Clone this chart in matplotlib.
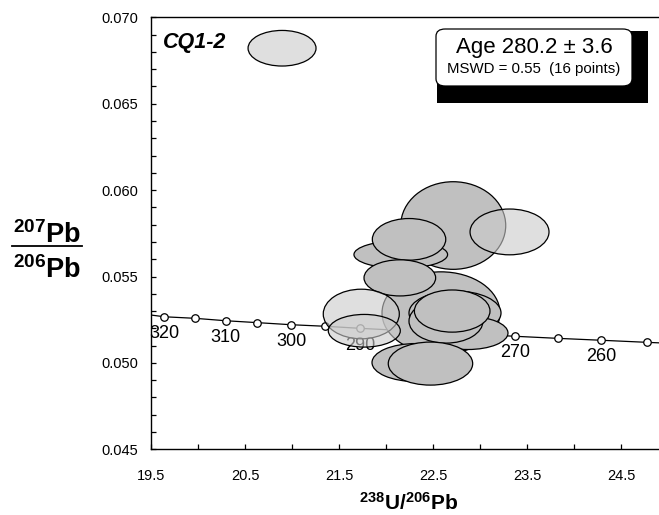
#!/usr/bin/env python3

# Tera-Wasserburg concordia, sample CQ1-2

import matplotlib
matplotlib.use("Agg")
import matplotlib.pyplot as plt
from matplotlib.patches import Ellipse, Rectangle, FancyBboxPatch
from matplotlib.lines import Line2D
from matplotlib.ticker import MultipleLocator, FixedLocator

# concordia age marks (Ma) and their positions
ages = [320, 315, 310, 305, 300, 295, 290, 285, 280, 275, 270, 265, 260, 255]
conc_x = [19.641, 19.968, 20.295, 20.631, 20.989, 21.351, 21.727, 22.117, 22.52, 22.94,
          23.375, 23.830, 24.291, 24.777]
conc_y = [0.05267, 0.05258, 0.05244, 0.05233, 0.05221, 0.05212, 0.05200, 0.05189,
          0.05177, 0.05166, 0.05154, 0.05142, 0.05131, 0.05119]
# curve ends at the plot edges
curve_x = [19.5] + conc_x + [24.904]
curve_y = [0.05277] + conc_y + [0.05116]

# error ellipses (centre, full width, full height), drawn in this order
ell_x = [22.585, 22.734, 22.872, 22.638, 22.704, 22.319, 22.473, 22.715, 22.157, 22.245, 22.147,
         23.314, 21.737, 21.769, 20.894]
ell_y = [0.05289, 0.05289, 0.05173, 0.05242, 0.05300, 0.05002, 0.04996, 0.05795, 0.05627, 0.05715, 0.05492,
         0.05758, 0.05283, 0.05186, 0.06821]
ell_w = [1.255, 0.979, 0.851, 0.787, 0.804, 0.936, 0.898, 1.117, 0.996, 0.781, 0.762,
         0.840, 0.809, 0.766, 0.723]
ell_h = [0.00476, 0.00255, 0.00191, 0.00255, 0.00244, 0.00220, 0.00249, 0.00507, 0.00159, 0.00241, 0.00209,
         0.00265, 0.00287, 0.00189, 0.00206]
# 1 = rejected analysis (light fill)
ell_rej = [0, 0, 0, 0, 0, 0, 0, 0, 0, 0, 0,
           1, 1, 1, 1]

x_labeled = [19.5, 20.5, 21.5, 22.5, 23.5, 24.5]
x_minor = [20.0, 21.0, 22.0, 23.0, 24.0]

plt.rcParams["font.family"] = ["Liberation Sans", "DejaVu Sans"]
plt.rcParams["mathtext.fontset"] = "custom"
plt.rcParams["mathtext.rm"] = "Liberation Sans"
plt.rcParams["mathtext.bf"] = "Liberation Sans:bold"
plt.rcParams["mathtext.it"] = "Liberation Sans:italic"

fig = plt.figure(figsize=(6.59, 5.15), dpi=100)
W, H = 659.0, 515.0
ax = fig.add_axes([151 / W, 1 - 449.3 / H, 508 / W, (449.3 - 17.3) / H])

ax.set_xlim(19.5, 24.904)
ax.set_ylim(0.045, 0.070)

# concordia
ax.plot(curve_x, curve_y, color="black", lw=0.9, zorder=2)
ax.plot(conc_x, conc_y, "o", ms=5.4, mfc="white", mec="black", mew=0.9, zorder=3)
for a, x, y in zip(ages, conc_x, conc_y):
	if a % 10 == 0:
		ax.annotate(str(a), (x, y), xytext=(0, -12), textcoords="offset points",
		            ha="center", va="center", fontsize=13, zorder=2, annotation_clip=False)

# ellipses
for x, y, w, h, r in zip(ell_x, ell_y, ell_w, ell_h, ell_rej):
	if r:
		fc = (203 / 255, 203 / 255, 203 / 255, 0.6)
	else:
		fc = (192 / 255, 192 / 255, 192 / 255, 1.0)
	ax.add_patch(Ellipse((x, y), w, h, facecolor=fc, edgecolor="black", lw=0.9, zorder=5))

# axes styling
ax.spines["right"].set_visible(False)
for s in ["left", "bottom", "top"]:
	ax.spines[s].set_linewidth(1.0)
ax.xaxis.set_major_locator(FixedLocator(x_labeled))
ax.xaxis.set_minor_locator(FixedLocator(x_minor))
ax.yaxis.set_major_locator(MultipleLocator(0.005))
ax.yaxis.set_minor_locator(MultipleLocator(0.001))
ax.tick_params(which="both", direction="in", length=3.5, width=0.9, top=False, right=False)
ax.tick_params(axis="x", which="major", pad=14, labelsize=10.5)
ax.tick_params(axis="y", which="major", pad=9, labelsize=10.5)
ax.xaxis.set_major_formatter(plt.FuncFormatter(lambda v, p: "%.1f" % v))
ax.yaxis.set_major_formatter(plt.FuncFormatter(lambda v, p: "%.3f" % v))

# sample name
ax.text(162.7 / W, 1 - 48 / H, "CQ1-2", transform=fig.transFigure, fontsize=15.5,
        fontweight="bold", fontstyle="italic", va="baseline", ha="left")

# result box with black shadow
fig.add_artist(Rectangle((437 / W, 1 - 103 / H), 211 / W, 72 / H, transform=fig.transFigure,
                         facecolor="black", edgecolor="none", zorder=10))
fig.add_artist(FancyBboxPatch((436 / W, 1 - 86 / H), 196 / W, 57 / H, transform=fig.transFigure,
                              boxstyle="round,pad=0,rounding_size=0.014",
                              facecolor="white", edgecolor="black", lw=0.9, zorder=11))
fig.text(534 / W, 1 - 53.3 / H, "Age 280.2 ± 3.6", fontsize=16, ha="center", va="baseline", zorder=12)
fig.text(534 / W, 1 - 73.3 / H, "MSWD = 0.55  (16 points)", fontsize=10.8, ha="center",
         va="baseline", zorder=12)

# axis titles
fig.text(409 / W, 1 - 510 / H, r"$\mathbf{{}^{238}U/{}^{206}Pb}$", fontsize=15,
         ha="center", va="baseline")
fig.text(47 / W, 1 - 242.7 / H, r"$\mathbf{{}^{207}Pb}$", fontsize=19.5, ha="center", va="baseline")
fig.text(47 / W, 1 - 278.3 / H, r"$\mathbf{{}^{206}Pb}$", fontsize=19.5, ha="center", va="baseline")
fig.add_artist(Line2D([11.7 / W, 81.7 / W], [1 - 245.7 / H, 1 - 245.7 / H],
                      transform=fig.transFigure, color="black", lw=1.3))

fig.savefig("out.png", dpi=100)
